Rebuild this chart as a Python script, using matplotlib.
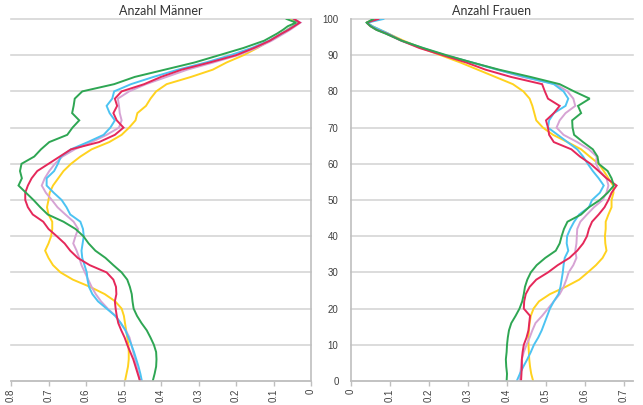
import matplotlib
matplotlib.use("Agg")
import matplotlib.pyplot as plt

# age grid (years), shared by all series
ages = list(range(0, 97, 2)) + [97, 98, 99, 100]

# Männer
men_green = [0.422, 0.417, 0.413, 0.412, 0.413, 0.419, 0.428, 0.438, 0.452, 0.464,
             0.473, 0.476, 0.478, 0.483, 0.490, 0.505, 0.527, 0.548, 0.575, 0.593,
             0.607, 0.628, 0.660, 0.702, 0.722, 0.740, 0.760, 0.780, 0.771, 0.776,
             0.772, 0.738, 0.720, 0.698, 0.650, 0.636, 0.618, 0.637, 0.633, 0.630,
             0.610, 0.525, 0.470, 0.390, 0.310, 0.245, 0.180, 0.125, 0.090, 0.075,
             0.062, 0.040, 0.065]
men_red = [0.456, 0.462, 0.468, 0.474, 0.482, 0.490, 0.497, 0.506, 0.514, 0.518,
           0.521, 0.523, 0.519, 0.520, 0.527, 0.545, 0.590, 0.622, 0.642, 0.657,
           0.678, 0.700, 0.714, 0.742, 0.755, 0.762, 0.762, 0.755, 0.745, 0.730,
           0.700, 0.670, 0.640, 0.565, 0.523, 0.500, 0.518, 0.527, 0.517, 0.523,
           0.505, 0.445, 0.400, 0.345, 0.270, 0.200, 0.152, 0.110, 0.078, 0.060,
           0.045, 0.030, 0.045]
men_blue = [0.451, 0.455, 0.460, 0.466, 0.472, 0.479, 0.487, 0.495, 0.507, 0.522,
            0.545, 0.568, 0.583, 0.592, 0.596, 0.598, 0.604, 0.610, 0.612, 0.609,
            0.606, 0.608, 0.615, 0.642, 0.652, 0.665, 0.686, 0.705, 0.705, 0.685,
            0.675, 0.667, 0.640, 0.595, 0.553, 0.535, 0.523, 0.537, 0.545, 0.530,
            0.525, 0.480, 0.420, 0.355, 0.280, 0.215, 0.158, 0.112, 0.078, 0.063,
            0.048, 0.032, 0.047]
men_pink = [0.456, 0.460, 0.465, 0.469, 0.474, 0.479, 0.484, 0.494, 0.508, 0.522,
            0.542, 0.560, 0.574, 0.585, 0.594, 0.603, 0.612, 0.618, 0.625, 0.634,
            0.628, 0.621, 0.633, 0.655, 0.676, 0.691, 0.707, 0.718, 0.710, 0.698,
            0.683, 0.663, 0.630, 0.585, 0.545, 0.512, 0.505, 0.510, 0.512, 0.515,
            0.485, 0.440, 0.385, 0.330, 0.260, 0.195, 0.145, 0.105, 0.072, 0.056,
            0.042, 0.028, 0.045]
men_yellow = [0.496, 0.492, 0.488, 0.486, 0.486, 0.487, 0.490, 0.493, 0.496, 0.499,
              0.505, 0.522, 0.550, 0.589, 0.635, 0.668, 0.688, 0.700, 0.709, 0.700,
              0.693, 0.690, 0.690, 0.700, 0.704, 0.700, 0.697, 0.688, 0.674, 0.660,
              0.640, 0.615, 0.585, 0.538, 0.505, 0.485, 0.468, 0.463, 0.440, 0.428,
              0.413, 0.385, 0.320, 0.262, 0.225, 0.180, 0.143, 0.110, 0.078, 0.064,
              0.050, 0.036, 0.051]

# Frauen
women_green = [0.399, 0.400, 0.398, 0.397, 0.399, 0.400, 0.402, 0.405, 0.411, 0.422,
               0.432, 0.439, 0.443, 0.446, 0.452, 0.461, 0.476, 0.498, 0.525, 0.535,
               0.540, 0.546, 0.555, 0.590, 0.610, 0.638, 0.658, 0.674, 0.668, 0.658,
               0.635, 0.632, 0.620, 0.595, 0.572, 0.568, 0.567, 0.590, 0.582, 0.612,
               0.572, 0.535, 0.460, 0.380, 0.310, 0.245, 0.185, 0.130, 0.088, 0.065,
               0.050, 0.040, 0.057]
women_red = [0.436, 0.437, 0.438, 0.438, 0.440, 0.443, 0.450, 0.455, 0.457, 0.459,
             0.443, 0.444, 0.448, 0.458, 0.475, 0.505, 0.530, 0.560, 0.580, 0.595,
             0.605, 0.610, 0.618, 0.635, 0.650, 0.660, 0.668, 0.681, 0.655, 0.635,
             0.614, 0.587, 0.565, 0.520, 0.508, 0.505, 0.500, 0.520, 0.535, 0.505,
             0.497, 0.490, 0.410, 0.345, 0.295, 0.235, 0.175, 0.130, 0.090, 0.066,
             0.050, 0.040, 0.070]
women_blue = [0.425, 0.433, 0.442, 0.452, 0.461, 0.469, 0.480, 0.489, 0.496, 0.503,
              0.510, 0.520, 0.532, 0.537, 0.540, 0.543, 0.545, 0.548, 0.557, 0.553,
              0.554, 0.562, 0.572, 0.585, 0.610, 0.618, 0.638, 0.648, 0.635, 0.620,
              0.607, 0.595, 0.580, 0.555, 0.530, 0.505, 0.508, 0.520, 0.550, 0.557,
              0.545, 0.520, 0.445, 0.375, 0.310, 0.240, 0.183, 0.130, 0.095, 0.075,
              0.055, 0.042, 0.083]
women_pink = [0.433, 0.434, 0.436, 0.438, 0.443, 0.450, 0.458, 0.465, 0.473, 0.490,
              0.505, 0.520, 0.535, 0.545, 0.552, 0.558, 0.570, 0.578, 0.575, 0.578,
              0.579, 0.580, 0.588, 0.605, 0.623, 0.645, 0.655, 0.660, 0.655, 0.638,
              0.628, 0.630, 0.610, 0.580, 0.545, 0.527, 0.535, 0.550, 0.575, 0.570,
              0.555, 0.525, 0.440, 0.375, 0.310, 0.240, 0.180, 0.128, 0.090, 0.070,
              0.052, 0.040, 0.074]
women_yellow = [0.467, 0.462, 0.459, 0.457, 0.456, 0.455, 0.455, 0.456, 0.458, 0.461,
                0.468, 0.482, 0.510, 0.550, 0.585, 0.607, 0.628, 0.645, 0.655, 0.652,
                0.651, 0.653, 0.653, 0.660, 0.668, 0.668, 0.673, 0.672, 0.660, 0.648,
                0.635, 0.612, 0.590, 0.555, 0.518, 0.492, 0.475, 0.470, 0.465, 0.458,
                0.442, 0.415, 0.370, 0.325, 0.280, 0.230, 0.180, 0.135, 0.095, 0.075,
                0.055, 0.040, 0.060]

colors = {
    "yellow": "#ffd21f",
    "pink": "#d6a3d4",
    "blue": "#4cc3f2",
    "red": "#e5285a",
    "green": "#2ea653",
}
men = {"yellow": men_yellow, "pink": men_pink, "blue": men_blue,
       "red": men_red, "green": men_green}
women = {"yellow": women_yellow, "pink": women_pink, "blue": women_blue,
         "red": women_red, "green": women_green}

W, H = 643, 405
fig = plt.figure(figsize=(W / 100, H / 100), dpi=100)
ax_m = fig.add_axes([11 / W, (H - 381) / H, 300 / W, 362 / H])
ax_f = fig.add_axes([351 / W, (H - 381) / H, 282 / W, 362 / H])

text_color = "#404040"
axis_color = "#bfbfbf"
grid_color = "#d6d6d6"
ticks = [0, 0.1, 0.2, 0.3, 0.4, 0.5, 0.6, 0.7, 0.8]
tick_labels = ["0", "0.1", "0.2", "0.3", "0.4", "0.5", "0.6", "0.7", "0.8"]

for ax, data in ((ax_m, men), (ax_f, women)):
    for name, values in data.items():
        ax.plot(values, ages, color=colors[name], lw=1.4, solid_joinstyle="miter")
    ax.set_ylim(0, 100)
    ax.set_yticks(range(0, 101, 10))
    ax.grid(axis="y", color=grid_color, lw=1.2)
    for gl in ax.yaxis.get_gridlines():
        gl.set_clip_on(False)
    ax.set_axisbelow(True)
    ax.set_xticks(ticks)
    ax.set_xticklabels(tick_labels, rotation=90, fontsize=7, color=text_color,
                       family="Liberation Sans")
    ax.tick_params(axis="x", length=3.5, width=1, color=axis_color, pad=2)
    for s in ax.spines.values():
        s.set_visible(False)
    ax.spines["bottom"].set_visible(True)
    ax.spines["bottom"].set_color(axis_color)
    ax.spines["bottom"].set_linewidth(1.2)

# Männer: reversed axis, vertical axis line at 0 on the right
ax_m.set_xlim(0.8, 0)
ax_m.spines["right"].set_visible(True)
ax_m.spines["right"].set_color(axis_color)
ax_m.spines["right"].set_linewidth(1.2)
ax_m.tick_params(axis="y", left=False, labelleft=False)

# Frauen: age labels on the left
ax_f.set_xlim(0, 0.723)
ax_f.spines["left"].set_visible(True)
ax_f.spines["left"].set_color(axis_color)
ax_f.spines["left"].set_linewidth(1.2)
ax_f.tick_params(axis="y", length=0, pad=9, labelsize=7, labelcolor=text_color)
for lbl in ax_f.get_yticklabels():
    lbl.set_family("Liberation Sans")

ax_m.text(0.5, 1.006, "Anzahl Männer", transform=ax_m.transAxes, ha="center",
          va="bottom", fontsize=9, color="#333333", family="Lato")
ax_f.text(0.5, 1.006, "Anzahl Frauen", transform=ax_f.transAxes, ha="center",
          va="bottom", fontsize=9, color="#333333", family="Lato")

fig.savefig("out.png", dpi=100)
